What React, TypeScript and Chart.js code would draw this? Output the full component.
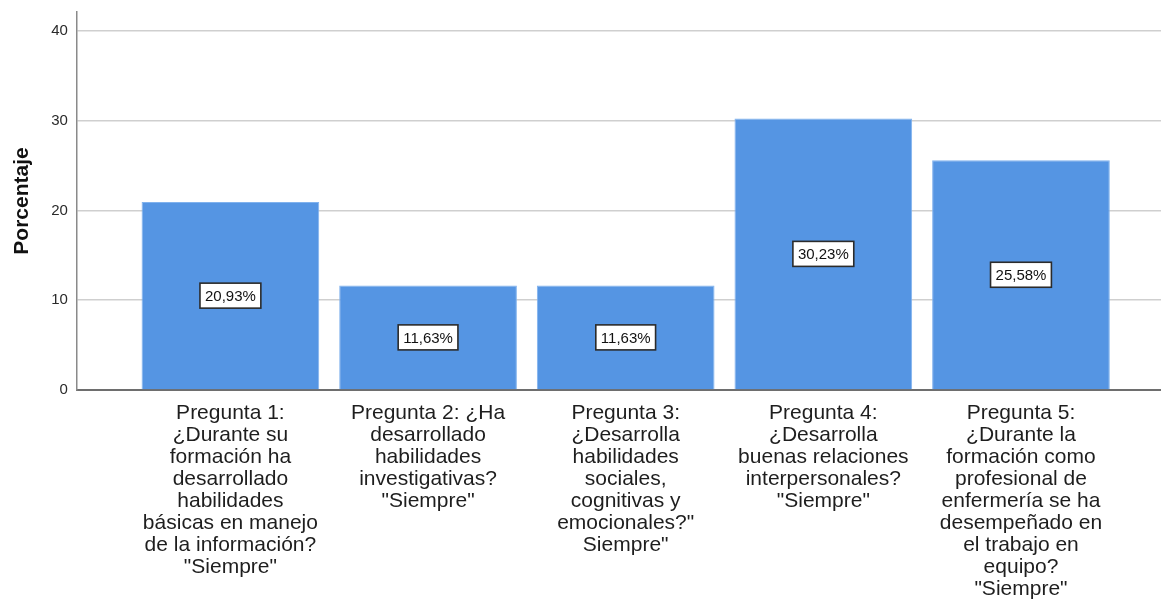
import React, { useEffect, useRef } from "react";
import { Chart, registerables } from "chart.js";

Chart.register(...registerables);

const categories: string[][] = [
  ["Pregunta 1:", "¿Durante su", "formación ha", "desarrollado", "habilidades", "básicas en manejo", "de la información?", "\"Siempre\""],
  ["Pregunta 2: ¿Ha", "desarrollado", "habilidades", "investigativas?", "\"Siempre\""],
  ["Pregunta 3:", "¿Desarrolla", "habilidades", "sociales,", "cognitivas y", "emocionales?\"", "Siempre\""],
  ["Pregunta 4:", "¿Desarrolla", "buenas relaciones", "interpersonales?", "\"Siempre\""],
  ["Pregunta 5:", "¿Durante la", "formación como", "profesional de", "enfermería se ha", "desempeñado en", "el trabajo en", "equipo?", "\"Siempre\""],
];

const values: number[] = [20.93, 11.63, 11.63, 30.23, 25.58];
const valueLabels: string[] = ["20,93%", "11,63%", "11,63%", "30,23%", "25,58%"];
const yTicks: number[] = [0, 10, 20, 30, 40];

const FONT = "'Liberation Sans', Arial, Helvetica, sans-serif";
const CANVAS_W = 1161;
const CANVAS_H = 616;

const boxLabelPlugin = {
  id: "boxLabels",
  afterDatasetsDraw(chart: any) {
    const ctx = chart.ctx;
    const meta = chart.getDatasetMeta(0);
    ctx.save();
    ctx.font = `15px ${FONT}`;
    ctx.textAlign = "center";
    ctx.textBaseline = "middle";
    meta.data.forEach((el: any, i: number) => {
      const text = valueLabels[i];
      const cx = el.x;
      const cy = (el.y + el.base) / 2;
      const w = ctx.measureText(text).width + 10;
      const h = 25;
      ctx.fillStyle = "#ffffff";
      ctx.fillRect(cx - w / 2, cy - h / 2, w, h);
      ctx.lineWidth = 1.6;
      ctx.strokeStyle = "#2b2b2b";
      ctx.strokeRect(cx - w / 2, cy - h / 2, w, h);
      ctx.fillStyle = "#111111";
      ctx.fillText(text, cx, cy + 1);
    });
    ctx.restore();
  },
};

export default function App() {
  const ref = useRef<HTMLCanvasElement | null>(null);

  useEffect(() => {
    if (!ref.current) return;
    const chart = new Chart(ref.current, {
      type: "bar",
      data: {
        datasets: [
          {
            data: values.map((v, i) => ({ x: i + 1, y: v })),
            backgroundColor: "#5595E3",
            borderColor: "#80B2EE",
            borderWidth: 1,
            barPercentage: 0.899,
            categoryPercentage: 1,
          },
        ],
      },
      options: {
        animation: false,
        responsive: false,
        maintainAspectRatio: false,
        layout: { padding: { top: 12, left: 0, right: 0, bottom: 4 } },
        plugins: {
          legend: { display: false },
          tooltip: { enabled: false },
        },
        scales: {
          x: {
            type: "linear",
            min: 0.2232,
            max: 5.7085,
            offset: false,
            afterBuildTicks: (scale: any) => {
              scale.ticks = categories.map((_, i) => ({ value: i + 1 }));
            },
            grid: { display: false, drawTicks: false, offset: false },
            border: { display: true, color: "#6e6e6e", width: 2 },
            ticks: {
              autoSkip: false,
              maxRotation: 0,
              minRotation: 0,
              padding: 12,
              color: "#1e1e1e",
              font: { family: FONT, size: 21, lineHeight: "22px" },
              callback: (value: any) => {
                const idx = Math.round(Number(value)) - 1;
                return categories[idx] ?? "";
              },
            },
          },
          y: {
            type: "linear",
            min: 0,
            max: 42.1,
            afterBuildTicks: (scale: any) => {
              scale.ticks = yTicks.map((v) => ({ value: v }));
            },
            grid: { color: "#cfcfcf", lineWidth: 1.6, drawTicks: false },
            border: { display: true, color: "#8a8a8a", width: 1.5 },
            ticks: {
              padding: 9,
              color: "#2a2a2a",
              font: { family: FONT, size: 15, lineHeight: 0.4 },
              callback: (value: any) => String(value),
            },
            title: {
              display: true,
              text: "Porcentaje",
              color: "#111111",
              font: { family: FONT, size: 21, weight: "bold", lineHeight: 1.2 },
              padding: { top: 10, bottom: 7 },
            },
          },
        },
      },
      plugins: [boxLabelPlugin],
    });
    return () => chart.destroy();
  }, []);

  return (
    <div style={{ position: "fixed", left: 0, top: 0, width: 1161, height: 603, overflow: "hidden", background: "#ffffff" }}>
      <canvas ref={ref} width={CANVAS_W} height={CANVAS_H} style={{ display: "block", width: CANVAS_W, height: CANVAS_H }} />
    </div>
  );
}
